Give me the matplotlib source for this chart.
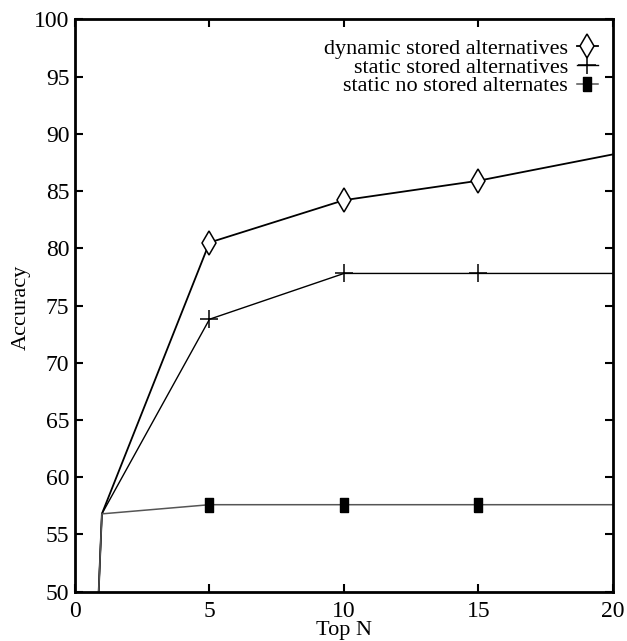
import numpy as np
import matplotlib
matplotlib.use("Agg")
import matplotlib.pyplot as plt

plt.rcParams['font.family'] = ['Liberation Serif', 'DejaVu Serif']

top_n = [0, 1, 5, 10, 15, 20]
dynamic_stored = [0, 56.8, 80.5, 84.2, 85.9, 88.2]
static_stored = [0, 56.8, 73.8, 77.8, 77.8, 77.8]
static_no_stored = [0, 56.8, 57.6, 57.6, 57.6, 57.6]

x_ticks = [0, 5, 10, 15, 20]
y_ticks = list(range(50, 101, 5))

# tall rectangle marker like gnuplot's filled box
box = [(-0.32, -0.5), (0.32, -0.5), (0.32, 0.5), (-0.32, 0.5), (-0.32, -0.5)]

fig = plt.figure(figsize=(6.27, 6.41), dpi=100)
ax = fig.add_axes([0.1196, 0.0769, 0.858, 0.893])

ax.plot(top_n, dynamic_stored, color='black', lw=1.3, marker='d',
        markersize=12, markerfacecolor='white', markeredgewidth=1.1,
        markevery=[2, 3, 4], label='dynamic stored alternatives')
ax.plot(top_n, static_stored, color='black', lw=1.0, marker='+',
        markersize=13, markeredgewidth=1.1, markevery=[2, 3, 4],
        label='static stored alternatives')
ax.plot(top_n, static_no_stored, color='#555555', lw=1.1, marker=box,
        markersize=10, markerfacecolor='black', markeredgecolor='black',
        markevery=[2, 3, 4], label='static no stored alternates')

ax.set_xlim(0, 20)
ax.set_ylim(50, 100)
ax.set_xticks(x_ticks)
ax.set_yticks(y_ticks)
ax.tick_params(direction='in', length=6, width=1.5, labelsize=17,
               top=True, right=True, pad=4)
ax.tick_params(axis='x', pad=7)
for s in ax.spines.values():
    s.set_linewidth(2)

fig.text(344 / 627, 1 - 630 / 641, 'Top N', fontsize=16,
         ha='center', va='center')
fig.text(21 / 627, 1 - 307 / 641, 'Accuracy', fontsize=16,
         ha='center', va='center', rotation=90)

ax.legend(loc='upper right', frameon=False, markerfirst=False, fontsize=16,
          handlelength=0.95, handletextpad=0.4, labelspacing=-0.08,
          borderaxespad=0.2, bbox_to_anchor=(0.997, 0.99))

fig.savefig('out.png', dpi=100)
